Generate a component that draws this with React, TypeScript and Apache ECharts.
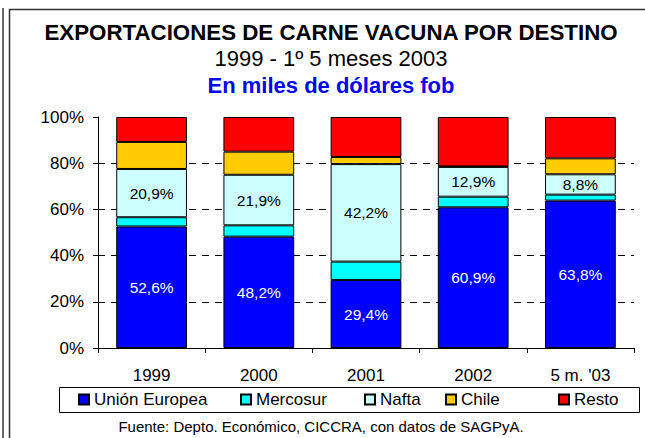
import React, { useEffect, useRef } from 'react';
import * as echarts from 'echarts';

const categories = ['1999', '2000', '2001', '2002', "5 m. '03"];
const unionEuropea = [52.6, 48.2, 29.4, 60.9, 63.8];
const mercosur = [4.0, 4.9, 8.0, 4.6, 2.6];
const nafta = [20.9, 21.9, 42.2, 12.9, 8.8];
const chile = [11.7, 10.0, 3.1, 0.2, 6.9];
const resto = [10.8, 15.0, 17.3, 21.4, 17.9];
const yTicks = [0, 20, 40, 60, 80, 100];
const seriesNames = ['Unión Europea', 'Mercosur', 'Nafta', 'Chile', 'Resto'];

const titleText = 'EXPORTACIONES DE CARNE VACUNA POR DESTINO';
const subtitleText = '1999 - 1º 5 meses 2003';
const unitText = 'En miles de dólares fob';
const sourceText = 'Fuente: Depto. Económico, CICCRA, con datos de SAGPyA.';

const FONT = "'Liberation Sans', Arial, sans-serif";
const legendLefts = [78, 240, 364, 445, 558];

const fmt = (v: number) => v.toFixed(1).replace('.', ',') + '%';

export default function App() {
  const ref = useRef<HTMLDivElement>(null);
  useEffect(() => {
    const chart = echarts.init(ref.current!, null, { renderer: 'svg' });
    const mk = (name: string, data: number[], color: string, label: any) => ({
      name,
      type: 'bar',
      stack: 'total',
      data,
      barWidth: '66%',
      itemStyle: { color, borderColor: '#000', borderWidth: 1 },
      label,
      emphasis: { disabled: true },
    });
    chart.setOption({
      animation: false,
      textStyle: { fontFamily: FONT },
      grid: { left: 98, right: 11, top: 117, bottom: 90 },
      xAxis: {
        type: 'category',
        data: categories,
        axisLine: { lineStyle: { color: '#000', width: 1 } },
        axisTick: { show: true, length: 5, lineStyle: { color: '#000' } },
        axisLabel: { color: '#000', fontSize: 17, margin: 19, fontFamily: FONT },
      },
      yAxis: {
        type: 'value',
        min: yTicks[0],
        max: yTicks[yTicks.length - 1],
        interval: 20,
        axisLine: { show: true, lineStyle: { color: '#000', width: 1 } },
        axisTick: { show: true, length: 5, lineStyle: { color: '#000' } },
        axisLabel: { color: '#000', fontSize: 17, margin: 14, formatter: '{value}%', fontFamily: FONT },
        splitLine: { show: true, showMaxLine: false, lineStyle: { color: '#000', type: [7, 6], width: 1 } },
      },
      legend: seriesNames.map((n, i) => ({
        top: 391,
        left: legendLefts[i],
        padding: 0,
        itemWidth: 10,
        itemHeight: 10,
        icon: 'rect',
        selectedMode: false,
        textStyle: { color: '#000', fontSize: 17, fontFamily: FONT },
        data: [n],
      })),
      series: [
        mk(seriesNames[0], unionEuropea, '#0000FF', {
          show: true, position: 'inside', color: '#fff', fontSize: 15.5, fontFamily: FONT,
          formatter: (p: any) => fmt(p.value),
        }),
        mk(seriesNames[1], mercosur, '#00FFFF', { show: false }),
        mk(seriesNames[2], nafta, '#CCFFFF', {
          show: true, position: 'inside', color: '#000', fontSize: 15.5, fontFamily: FONT,
          formatter: (p: any) => fmt(p.value),
        }),
        mk(seriesNames[3], chile, '#FFCC00', { show: false }),
        mk(seriesNames[4], resto, '#FF0000', { show: false }),
      ],
      graphic: [
        { type: 'line', z: 0, shape: { x1: 3, y1: 8, x2: 3, y2: 438 }, style: { stroke: '#333', lineWidth: 1.5 } },
        { type: 'rect', z: 0, shape: { x: 9.5, y: 9.5, width: 700, height: 500 }, style: { fill: 'none', stroke: '#333', lineWidth: 1.5 } },
        { type: 'rect', z: 0, shape: { x: 59.5, y: 387.5, width: 580, height: 25 }, style: { fill: '#fff', stroke: '#000', lineWidth: 1 } },
        { type: 'text', x: 331, y: 32, style: { text: titleText, fontSize: 22.3, fontWeight: 'bold', fontFamily: FONT, fill: '#000', textAlign: 'center', textVerticalAlign: 'middle' } },
        { type: 'text', x: 331, y: 58, style: { text: subtitleText, fontSize: 22, fontFamily: FONT, fill: '#000', textAlign: 'center', textVerticalAlign: 'middle' } },
        { type: 'text', x: 331, y: 85, style: { text: unitText, fontSize: 22, fontWeight: 'bold', fontFamily: FONT, fill: '#0000FF', textAlign: 'center', textVerticalAlign: 'middle' } },
        { type: 'text', x: 321, y: 426, style: { text: sourceText, fontSize: 15, fontFamily: FONT, fill: '#000', textAlign: 'center', textVerticalAlign: 'middle' } },
      ],
    });
    return () => chart.dispose();
  }, []);
  return <div ref={ref} style={{ position: 'absolute', left: 0, top: 0, width: 645, height: 438 }} />;
}
